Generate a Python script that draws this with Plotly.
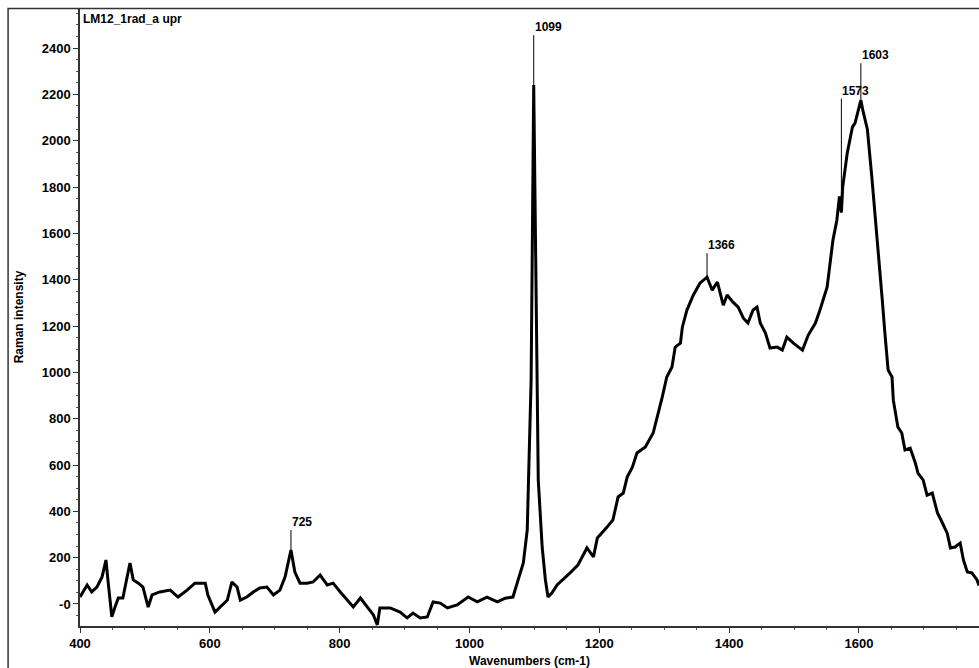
import plotly.graph_objects as go

# Raman spectrum
wavenumber = [400, 411, 418, 426, 434, 440, 443, 449, 454, 459, 466, 472, 477, 482, 490, 497,
              505, 511, 523, 539, 551, 565, 577, 593, 597, 608, 619, 627, 634, 642, 647, 657,
              667, 677, 688, 698, 708, 716, 725, 731, 739, 750, 759, 770, 781, 790, 801, 811,
              821, 832, 842, 852, 858, 862, 878, 893, 904, 913, 924, 935, 944, 955, 966, 981,
              998, 1012, 1027, 1043, 1055, 1067, 1075, 1083, 1089, 1092, 1095, 1099, 1104, 1106,
              1112, 1117, 1121, 1127, 1135, 1144, 1155, 1167, 1181, 1191, 1197, 1212, 1221, 1229,
              1237, 1243, 1251, 1258, 1271, 1283, 1291, 1297, 1304, 1312, 1317, 1325, 1328, 1335,
              1345, 1355, 1366, 1374, 1382, 1391, 1397, 1406, 1414, 1422, 1429, 1437, 1443, 1448,
              1456, 1463, 1474, 1482, 1489, 1499, 1513, 1522, 1533, 1540, 1551, 1556, 1560, 1566,
              1570, 1573, 1575, 1582, 1590, 1594, 1603, 1606, 1613, 1620, 1628, 1636, 1640, 1645,
              1651, 1653, 1660, 1666, 1671, 1679, 1687, 1691, 1699, 1705, 1713, 1721, 1728, 1736,
              1741, 1748, 1756, 1761, 1767, 1774, 1782, 1785]
intensity = [30, 82, 52, 73, 117, 190, 104, -55, -13, 26, 26, 117, 177, 104, 90, 73,
             -13, 39, 52, 60, 30, 60, 90, 90, 39, -35, -4, 17, 95, 73, 17, 30,
             52, 69, 73, 39, 60, 117, 233, 138, 90, 90, 95, 125, 82, 90, 52, 17,
             -13, 26, -13, -47, -90, -17, -17, -35, -60, -39, -60, -56, 9, 4, -17, -4,
             30, 9, 30, 9, 25, 30, 104, 177, 319, 608, 967, 2240, 967, 535,
             246, 104, 30, 47, 82, 104, 134, 168, 242, 203, 285, 332, 363, 462,
             479, 548, 591, 652, 678, 738, 824, 893, 980, 1023, 1109, 1126, 1195, 1269,
             1334, 1385, 1411, 1355, 1390, 1290, 1334, 1303, 1282, 1234, 1213, 1269, 1282, 1213,
             1170, 1105, 1109, 1096, 1152, 1126, 1096, 1161, 1213, 1269, 1368, 1476, 1571, 1657,
             1760, 1690, 1800, 1946, 2059, 2076, 2175, 2132, 2050, 1840, 1590, 1312, 1170, 1010,
             980, 880, 764, 738, 665, 673, 608, 565, 535, 470, 479, 393, 354, 306,
             242, 246, 263, 190, 138, 134, 104, 80]

# labelled peaks
peak_x = [725, 1099, 1366, 1573, 1603]
peak_y = [233, 2240, 1411, 1690, 2175]
peak_labels = ["725", "1099", "1366", "1573", "1603"]
label_len = [20, 50, 24, 114, 37]

y_ticks = [0, 200, 400, 600, 800, 1000, 1200, 1400, 1600, 1800, 2000, 2200, 2400]
y_ticktext = ["-0"] + [str(v) for v in y_ticks[1:]]
x_ticks = [400, 600, 800, 1000, 1200, 1400, 1600]

font_family = "Arial, Liberation Sans, sans-serif"

fig = go.Figure()
fig.add_trace(go.Scatter(x=wavenumber, y=intensity, mode="lines",
                         line=dict(color="black", width=3), showlegend=False))

for px, py, txt, ln in zip(peak_x, peak_y, peak_labels, label_len):
    fig.add_annotation(x=px, y=py, text=txt, showarrow=True, arrowhead=0,
                       arrowwidth=1, arrowcolor="black", ax=0, ay=-ln,
                       xanchor="left", yanchor="bottom", borderpad=0,
                       font=dict(family=font_family, size=12, color="black", weight="bold"))

fig.add_annotation(x=0, y=1, xref="paper", yref="paper", text="LM12_1rad_a upr",
                   showarrow=False, xanchor="left", yanchor="top", xshift=1, yshift=-2,
                   font=dict(family=font_family, size=12, color="black", weight="bold"))

# outer frame of the scanned figure
fig.add_shape(type="rect", xref="paper", yref="paper", x0=-0.08, x1=1.01, y0=-0.1, y1=0.999,
              line=dict(color="#333", width=1.5), layer="above")

axis_common = dict(showgrid=False, zeroline=False, showline=True, linecolor="#333",
                   linewidth=1.5, ticks="outside", ticklen=5, tickwidth=1.2,
                   tickcolor="#333",
                   tickfont=dict(family=font_family, size=13, color="black", weight="bold"))

fig.update_xaxes(range=[400, 1785], tickvals=x_ticks, **axis_common,
                 minor=dict(dtick=50, ticklen=2, tickcolor="#555", ticks="outside"),
                 title=dict(text="Wavenumbers (cm-1)", standoff=6,
                            font=dict(family=font_family, size=12, color="black", weight="bold")))
fig.update_yaxes(range=[-95, 2573], tickvals=y_ticks, ticktext=y_ticktext, **axis_common,
                 minor=dict(dtick=50, ticklen=2, tickcolor="#555", ticks="outside"),
                 title=dict(text="Raman intensity", standoff=16,
                            font=dict(family=font_family, size=12, color="black", weight="bold")))

fig.update_layout(width=979, height=668, margin=dict(l=80, r=0, t=8, b=42),
                  plot_bgcolor="white", paper_bgcolor="white",
                  font=dict(family=font_family, color="black"))

# drop the default page margin so the figure fills the window exactly
fig.write_html("out.html", config={"displayModeBar": False},
               post_script="document.body.style.margin='0';")
